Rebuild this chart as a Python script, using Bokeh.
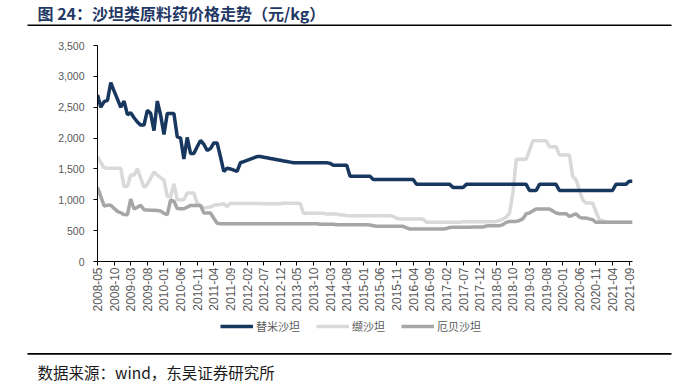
import pandas as pd
from bokeh.plotting import figure
from bokeh.layouts import column
from bokeh.models import (ColumnDataSource, FixedTicker, NumeralTickFormatter, Range1d,
                          Label, BoxAnnotation, Legend, LegendItem)
from bokeh.embed import file_html
from bokeh.resources import INLINE
from math import pi

# ---------------- data ----------------
months = [d.strftime("%Y-%m") for d in pd.date_range("2008-05-01", "2021-10-01", freq="MS")]

telmisartan = [  # 替米沙坦
    2700, 2500, 2590, 2610, 2900, 2760, 2630, 2500, 2600, 2380,
    2410, 2330, 2260, 2210, 2210, 2450, 2400, 2120, 2600, 2370,
    2060, 2400, 2400, 2400, 2020, 2000, 1660, 2010, 1750, 1750,
    1860, 1960, 1900, 1800, 1830, 1920, 1920, 1700, 1460, 1510,
    1500, 1480, 1460, 1600, 1620, 1640, 1660, 1680, 1700, 1700,
    1690, 1680, 1670, 1660, 1650, 1640, 1630, 1620, 1610, 1600,
    1600, 1600, 1600, 1600, 1600, 1600, 1600, 1600, 1600, 1600,
    1590, 1560, 1560, 1560, 1560, 1560, 1380, 1380, 1380, 1380,
    1380, 1380, 1380, 1330, 1330, 1330, 1330, 1330, 1330, 1330,
    1330, 1330, 1330, 1330, 1330, 1330, 1250, 1250, 1250, 1250,
    1250, 1250, 1250, 1250, 1250, 1250, 1250, 1200, 1200, 1200,
    1200, 1250, 1250, 1250, 1250, 1250, 1250, 1250, 1250, 1250,
    1250, 1250, 1250, 1250, 1250, 1250, 1250, 1250, 1250, 1250,
    1150, 1150, 1150, 1250, 1250, 1250, 1250, 1250, 1250, 1150,
    1150, 1150, 1150, 1150, 1150, 1150, 1150, 1150, 1150, 1150,
    1150, 1150, 1150, 1150, 1150, 1150, 1250, 1250, 1250, 1250,
    1300, 1300,
]

valsartan = [  # 缬沙坦
    1700, 1600, 1520, 1510, 1510, 1510, 1510, 1510, 1215, 1215,
    1400, 1400, 1500, 1350, 1200, 1250, 1350, 1450, 1400, 1360,
    1320, 1054, 1054, 1260, 1000, 1000, 1000, 1108, 1108, 1108,
    946, 900, 866, 875, 885, 910, 920, 925, 935, 892,
    946, 940, 940, 940, 940, 940, 940, 940, 940, 940,
    935, 935, 935, 935, 935, 935, 945, 945, 945, 945,
    945, 940, 780, 780, 780, 780, 780, 780, 780, 770,
    770, 770, 770, 755, 755, 742, 742, 742, 742, 742,
    742, 742, 742, 742, 742, 742, 742, 742, 742, 731,
    700, 688, 688, 688, 688, 688, 688, 688, 688, 634,
    634, 634, 634, 634, 634, 634, 634, 634, 634, 634,
    645, 645, 645, 645, 645, 645, 645, 645, 645, 645,
    650, 665, 688, 720, 785, 1100, 1656, 1656, 1656, 1656,
    1800, 1957, 1957, 1957, 1957, 1957, 1860, 1860, 1860, 1726,
    1726, 1726, 1726, 1376, 1323, 1160, 1000, 946, 946, 946,
    810, 677, 660, 645, 634, 634, 634, 634, 634, 634,
    634, 634,
]

irbesartan = [  # 厄贝沙坦
    1200, 1050, 900, 910, 910, 860, 812, 790, 760, 758,
    1010, 850, 880, 909, 840, 835, 830, 830, 828, 820,
    780, 758, 1000, 975, 860, 855, 855, 880, 909, 909,
    909, 909, 785, 785, 785, 700, 620, 613, 613, 613,
    613, 613, 613, 613, 613, 613, 613, 613, 613, 613,
    613, 613, 613, 613, 613, 613, 613, 613, 613, 613,
    613, 613, 613, 613, 613, 613, 613, 605, 605, 605,
    605, 605, 597, 597, 597, 597, 597, 597, 597, 597,
    597, 597, 590, 580, 570, 570, 570, 570, 570, 570,
    570, 570, 570, 545, 527, 527, 527, 527, 527, 527,
    527, 527, 527, 527, 527, 535, 550, 554, 554, 554,
    554, 554, 554, 560, 560, 560, 560, 575, 580, 580,
    580, 580, 597, 634, 650, 650, 650, 665, 690, 774,
    785, 820, 850, 850, 850, 850, 850, 820, 785, 774,
    774, 774, 731, 750, 774, 720, 704, 704, 690, 677,
    634, 634, 634, 634, 634, 634, 634, 634, 634, 634,
    634, 634,
]

series_names = ["替米沙坦", "缬沙坦", "厄贝沙坦"]
y_ticks = [0, 500, 1000, 1500, 2000, 2500, 3000, 3500]
title_text = "图 24：沙坦类原料药价格走势（元/kg）"
source_text = "数据来源：wind，东吴证券研究所"

colors = ["#17375E", "#D9D9D9", "#A6A6A6"]
LW = 3.5
W = 680


def deco_fig(top, bottom):
    """A figure whose frame fills its canvas; data coords == page pixels."""
    f = figure(width=W, height=bottom - top, output_backend="svg", toolbar_location=None,
               x_range=Range1d(0, W), y_range=Range1d(bottom, top),
               x_axis_type=None, y_axis_type=None,
               min_border=0, min_border_left=0, min_border_right=0,
               min_border_top=0, min_border_bottom=0)
    f.outline_line_color = None
    f.grid.visible = False
    return f


# ---------------- header ----------------
HEAD_H = 30
head = deco_fig(0, HEAD_H)
head.add_layout(Label(x=37, y=12.5, text=title_text,
                      text_font="Noto Sans CJK SC", text_font_style="bold",
                      text_font_size="16px", text_color="#1F3864",
                      text_baseline="middle", text_align="left"))
head.add_layout(BoxAnnotation(left=27, right=671, top=24, bottom=25.6,
                              fill_color="black", fill_alpha=1, line_color=None))

# ---------------- main chart ----------------
idx = list(range(len(months)))
src = ColumnDataSource(dict(x=idx, t=telmisartan, v=valsartan, i=irbesartan))

ML, MT, FW, FH, MB = 97, 15, 535, 216, 57
MAIN_H = MT + FH + MB
p = figure(width=W, height=MAIN_H, output_backend="svg", toolbar_location=None,
           x_range=Range1d(0, len(months) - 1), y_range=Range1d(0, 3500),
           min_border_left=ML, min_border_right=W - ML - FW,
           min_border_top=MT, min_border_bottom=MB)
p.outline_line_color = None
p.grid.visible = False

p.line("x", "v", source=src, line_color=colors[1], line_width=LW)
p.line("x", "i", source=src, line_color=colors[2], line_width=LW)
p.line("x", "t", source=src, line_color=colors[0], line_width=LW)

ya = p.yaxis[0]
ya.ticker = FixedTicker(ticks=y_ticks)
ya.formatter = NumeralTickFormatter(format="0,0")
ya.axis_line_color = "black"
ya.major_tick_line_color = "black"
ya.major_tick_out = 4
ya.major_tick_in = 0
ya.minor_tick_line_color = None
ya.major_label_text_font = "Liberation Sans"
ya.major_label_text_font_size = "10.5px"
ya.major_label_text_color = "#595959"
ya.major_label_standoff = 9

xa = p.xaxis[0]
xt = idx[::5]
xa.ticker = FixedTicker(ticks=xt)
xa.major_label_overrides = {i: months[i] for i in xt}
xa.major_label_orientation = pi / 2
xa.axis_line_color = "black"
xa.major_tick_line_color = "black"
xa.major_tick_out = 4
xa.major_tick_in = 0
xa.minor_tick_line_color = None
xa.major_label_text_font = "Liberation Sans"
xa.major_label_text_font_size = "12px"
xa.major_label_text_color = "#595959"
xa.major_label_standoff = 2

# ---------------- footer (legend, rule, source) ----------------
FOOT_TOP, FOOT_BOT = HEAD_H + MAIN_H, 384
foot = deco_fig(FOOT_TOP, FOOT_BOT)
# legend entries refer to the same series (renderers hidden in this panel)
leg_cols = ["t", "v", "i"]
leg_r = [foot.line("x", c, source=src, line_color=col, line_width=LW, visible=False)
         for c, col in zip(leg_cols, colors)]
legend = Legend(items=[LegendItem(label=n, renderers=[r]) for n, r in zip(series_names, leg_r)],
                orientation="horizontal", location=(220, FOOT_BOT - 334),
                glyph_width=33, glyph_height=12, label_height=12, label_width=10,
                label_standoff=3, spacing=16, padding=0, margin=0,
                border_line_color=None, background_fill_alpha=0,
                inactive_fill_alpha=0,
                label_text_font="Noto Sans CJK SC", label_text_font_size="11px",
                label_text_color="#595959")
foot.add_layout(legend)
foot.add_layout(BoxAnnotation(left=27, right=671, top=352.6, bottom=354.2,
                              fill_color="black", fill_alpha=1, line_color=None))
foot.add_layout(Label(x=37, y=371, text=source_text,
                      text_font="Noto Sans CJK SC", text_font_size="15.5px",
                      text_color="#1a1a1a", text_baseline="middle", text_align="left"))

layout = column(column(head), p, column(foot), spacing=0)
open("out.html", "w").write(file_html(layout, INLINE))
